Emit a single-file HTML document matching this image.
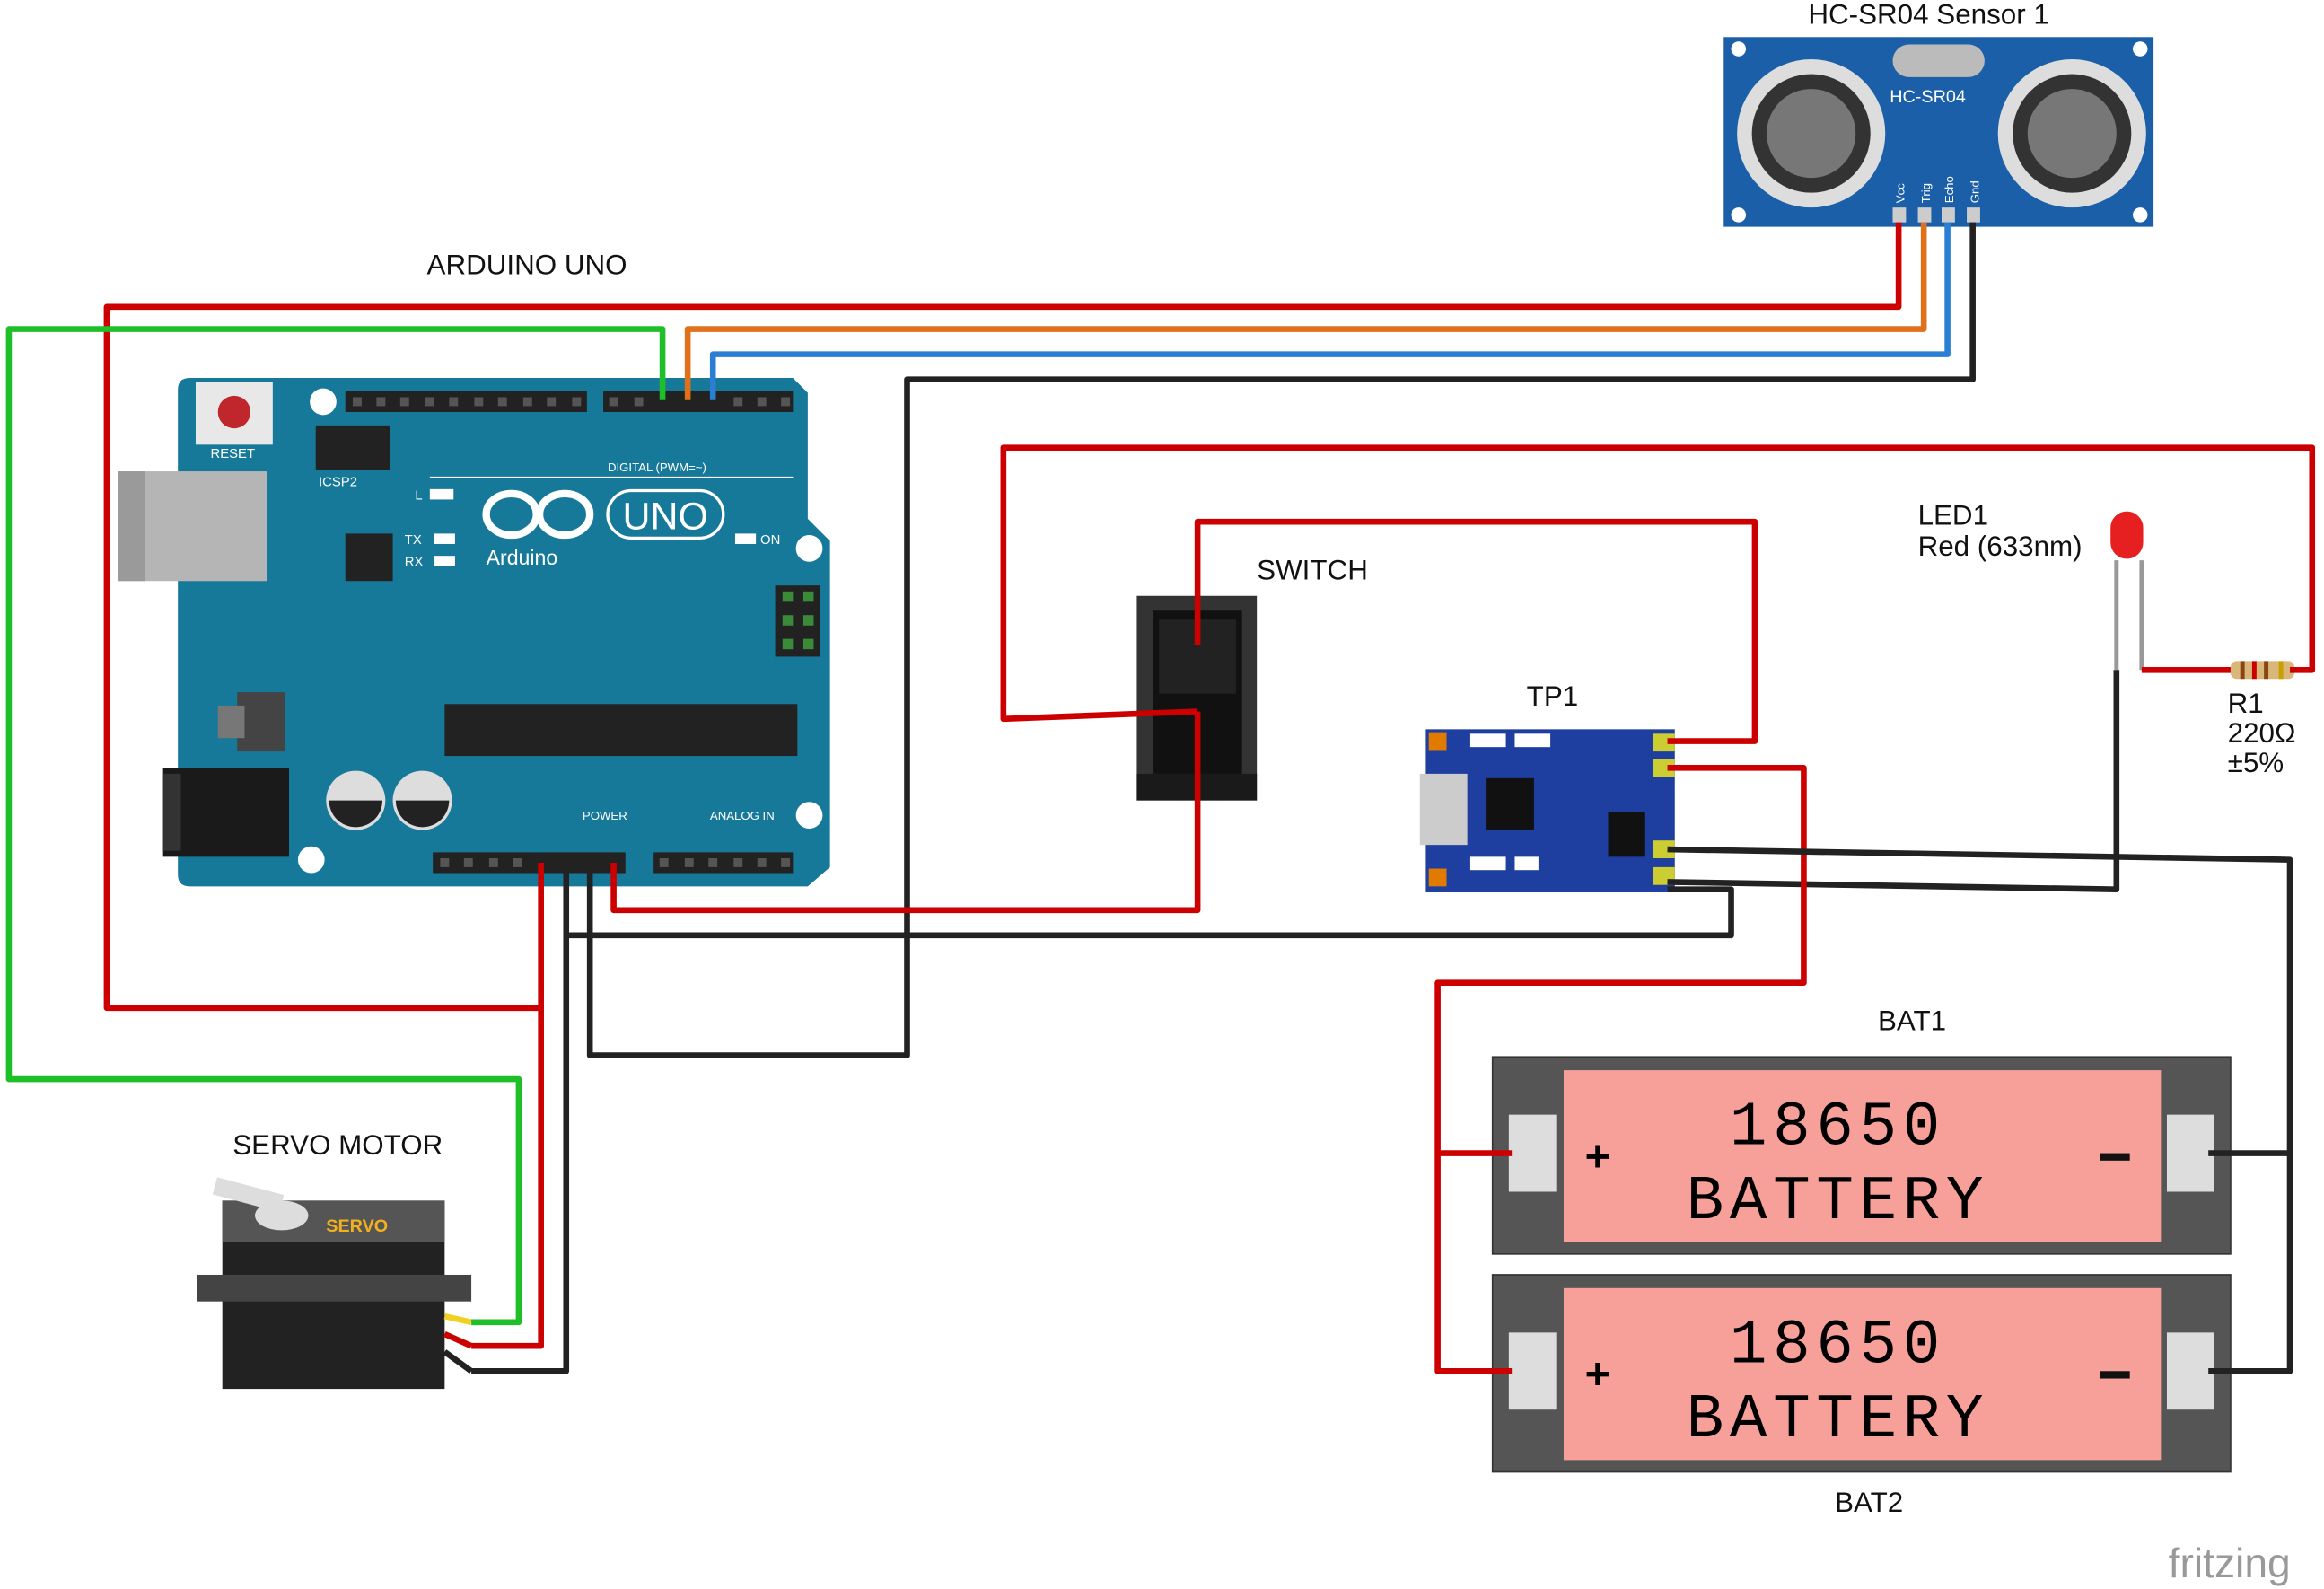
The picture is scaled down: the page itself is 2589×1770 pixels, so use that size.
<!DOCTYPE html>
<html><head><meta charset="utf-8"><style>html,body{margin:0;padding:0;background:#fff}svg{display:block}</style></head>
<body>
<svg width="2589" height="1770" viewBox="0 0 1568 1072" xmlns="http://www.w3.org/2000/svg" font-family="Liberation Sans, sans-serif">
<rect width="1568" height="1072" fill="#fff"/>
<!-- Arduino -->
<path d="M128,255 H535 L545,265 V350 L560,365 V585 L545,598 H128 Q120,598 120,590 V263 Q120,255 128,255Z" fill="#17799a"/>
<rect x="80" y="318" width="100" height="74" fill="#b5b5b5"/><rect x="80" y="318" width="18" height="74" fill="#9a9a9a"/>
<rect x="110" y="518" width="85" height="60" fill="#1a1a1a"/><rect x="110" y="522" width="12" height="52" fill="#333"/>
<rect x="132" y="258" width="52" height="42" fill="#e8e8e8"/><circle cx="158" cy="278" r="11" fill="#c0272d"/>
<text x="142" y="309" font-size="9" fill="#fff">RESET</text>
<circle cx="218" cy="271" r="9" fill="#fff"/><circle cx="546" cy="370" r="9" fill="#fff"/><circle cx="546" cy="550" r="9" fill="#fff"/><circle cx="210" cy="580" r="9" fill="#fff"/>
<rect x="233" y="264" width="163" height="14" fill="#222"/><rect x="407" y="264" width="128" height="14" fill="#222"/>
<rect x="292" y="575" width="130" height="14" fill="#222"/><rect x="441" y="575" width="94" height="14" fill="#222"/>
<g fill="#555">
<rect x="238" y="268" width="6" height="6"/><rect x="254" y="268" width="6" height="6"/><rect x="270" y="268" width="6" height="6"/><rect x="287" y="268" width="6" height="6"/><rect x="303" y="268" width="6" height="6"/><rect x="320" y="268" width="6" height="6"/><rect x="336" y="268" width="6" height="6"/><rect x="353" y="268" width="6" height="6"/><rect x="369" y="268" width="6" height="6"/><rect x="386" y="268" width="6" height="6"/>
<rect x="411" y="268" width="6" height="6"/><rect x="428" y="268" width="6" height="6"/><rect x="495" y="268" width="6" height="6"/><rect x="511" y="268" width="6" height="6"/><rect x="527" y="268" width="6" height="6"/>
<rect x="297" y="579" width="6" height="6"/><rect x="313" y="579" width="6" height="6"/><rect x="330" y="579" width="6" height="6"/><rect x="346" y="579" width="6" height="6"/>
<rect x="445" y="579" width="6" height="6"/><rect x="462" y="579" width="6" height="6"/><rect x="478" y="579" width="6" height="6"/><rect x="495" y="579" width="6" height="6"/><rect x="511" y="579" width="6" height="6"/><rect x="527" y="579" width="6" height="6"/>
</g>
<rect x="213" y="287" width="50" height="30" fill="#222"/>
<rect x="523" y="395" width="30" height="48" fill="#222"/>
<g fill="#3a8a3a"><rect x="528" y="399" width="7" height="7"/><rect x="542" y="399" width="7" height="7"/><rect x="528" y="415" width="7" height="7"/><rect x="542" y="415" width="7" height="7"/><rect x="528" y="431" width="7" height="7"/><rect x="542" y="431" width="7" height="7"/></g>
<rect x="233" y="360" width="32" height="32" fill="#222"/><rect x="300" y="475" width="238" height="35" fill="#222"/>
<rect x="160" y="467" width="32" height="40" fill="#444"/><rect x="147" y="476" width="18" height="22" fill="#777"/>
<circle cx="240" cy="540" r="20" fill="#ddd"/><path d="M222,540 a18,18 0 0,0 36,0Z" fill="#222"/>
<circle cx="285" cy="540" r="20" fill="#ddd"/><path d="M267,540 a18,18 0 0,0 36,0Z" fill="#222"/>
<rect x="290" y="330" width="16" height="7" fill="#fff"/><rect x="293" y="360" width="14" height="7" fill="#fff"/><rect x="293" y="375" width="14" height="7" fill="#fff"/><rect x="496" y="360" width="14" height="7" fill="#fff"/>
<text x="280" y="337" font-size="9" fill="#fff">L</text><text x="273" y="367" font-size="9" fill="#fff">TX</text><text x="273" y="382" font-size="9" fill="#fff">RX</text><text x="513" y="367" font-size="9" fill="#fff">ON</text>
<text x="215" y="328" font-size="9" fill="#fff">ICSP2</text>
<text x="410" y="318" font-size="8" fill="#fff">DIGITAL (PWM=~)</text><line x1="290" y1="322" x2="535" y2="322" stroke="#fff"/>
<text x="393" y="553" font-size="8" fill="#fff">POWER</text><text x="479" y="553" font-size="8" fill="#fff">ANALOG IN</text>
<ellipse cx="345" cy="347" rx="17" ry="14" fill="none" stroke="#fff" stroke-width="5"/><ellipse cx="381" cy="347" rx="17" ry="14" fill="none" stroke="#fff" stroke-width="5"/>
<rect x="410" y="331" width="78" height="32" rx="16" fill="none" stroke="#fff" stroke-width="2"/><text x="420" y="357" font-size="26" fill="#fff">UNO</text>
<text x="328" y="381" font-size="14" fill="#fff">Arduino</text>
<!-- HC-SR04 -->
<rect x="1163" y="25" width="290" height="128" fill="#1a5fa8"/>
<circle cx="1222" cy="90" r="50" fill="#ddd"/><circle cx="1222" cy="90" r="40" fill="#333"/><circle cx="1222" cy="90" r="30" fill="#777"/>
<circle cx="1398" cy="90" r="50" fill="#ddd"/><circle cx="1398" cy="90" r="40" fill="#333"/><circle cx="1398" cy="90" r="30" fill="#777"/>
<rect x="1277" y="30" width="62" height="22" rx="11" fill="#bbb"/><text x="1275" y="69" font-size="12" fill="#fff">HC-SR04</text>
<g font-size="8" fill="#fff"><text transform="translate(1285,137) rotate(-90)">Vcc</text><text transform="translate(1302,137) rotate(-90)">Trig</text><text transform="translate(1318,137) rotate(-90)">Echo</text><text transform="translate(1335,137) rotate(-90)">Gnd</text></g>
<rect x="1277" y="140" width="9" height="10" fill="#ccc"/><rect x="1294" y="140" width="9" height="10" fill="#ccc"/><rect x="1310" y="140" width="9" height="10" fill="#ccc"/><rect x="1327" y="140" width="9" height="10" fill="#ccc"/>
<circle cx="1173" cy="33" r="5" fill="#fff"/><circle cx="1444" cy="33" r="5" fill="#fff"/><circle cx="1173" cy="145" r="5" fill="#fff"/><circle cx="1444" cy="145" r="5" fill="#fff"/>
<!-- Switch -->
<rect x="767" y="402" width="81" height="138" fill="#333"/><rect x="778" y="412" width="60" height="110" fill="#111"/>
<rect x="782" y="418" width="52" height="50" fill="#222"/>
<rect x="767" y="522" width="81" height="18" fill="#1a1a1a"/>
<!-- TP1 -->
<rect x="962" y="492" width="168" height="110" fill="#1e3fa0"/><rect x="958" y="522" width="32" height="48" fill="#ccc"/><rect x="1003" y="525" width="32" height="35" fill="#111"/><rect x="1085" y="548" width="25" height="30" fill="#111"/>
<g fill="#fff"><rect x="992" y="495" width="24" height="9"/><rect x="1022" y="495" width="24" height="9"/><rect x="992" y="578" width="24" height="9"/><rect x="1022" y="578" width="16" height="9"/></g>
<rect x="1115" y="495" width="15" height="12" fill="#cc3"/><rect x="1115" y="512" width="15" height="12" fill="#cc3"/><rect x="1115" y="567" width="15" height="12" fill="#cc3"/><rect x="1115" y="585" width="15" height="12" fill="#cc3"/>
<rect x="964" y="494" width="12" height="12" fill="#e07b00"/><rect x="964" y="586" width="12" height="12" fill="#e07b00"/>
<!-- Batteries -->
<g><rect x="1007" y="713" width="498" height="133" fill="#555" stroke="#333"/><rect x="1055" y="722" width="403" height="116" fill="#f7a09a"/>
<rect x="1018" y="752" width="32" height="52" fill="#ddd"/><rect x="1462" y="752" width="32" height="52" fill="#ddd"/>
<text x="1240" y="772" font-size="42" text-anchor="middle" font-family="Liberation Mono, monospace" letter-spacing="4">18650</text><text x="1240" y="822" font-size="42" text-anchor="middle" font-family="Liberation Mono, monospace" letter-spacing="4">BATTERY</text>
<text x="1078" y="790" font-size="30" text-anchor="middle" font-weight="bold">+</text><rect x="1417" y="778" width="20" height="5" fill="#111"/></g>
<g transform="translate(0,147)"><rect x="1007" y="713" width="498" height="133" fill="#555" stroke="#333"/><rect x="1055" y="722" width="403" height="116" fill="#f7a09a"/>
<rect x="1018" y="752" width="32" height="52" fill="#ddd"/><rect x="1462" y="752" width="32" height="52" fill="#ddd"/>
<text x="1240" y="772" font-size="42" text-anchor="middle" font-family="Liberation Mono, monospace" letter-spacing="4">18650</text><text x="1240" y="822" font-size="42" text-anchor="middle" font-family="Liberation Mono, monospace" letter-spacing="4">BATTERY</text>
<text x="1078" y="790" font-size="30" text-anchor="middle" font-weight="bold">+</text><rect x="1417" y="778" width="20" height="5" fill="#111"/></g>
<!-- Servo -->
<rect x="150" y="810" width="150" height="127" fill="#222"/><rect x="133" y="860" width="185" height="18" fill="#444"/><rect x="150" y="810" width="150" height="28" fill="#555"/>
<ellipse cx="190" cy="820" rx="18" ry="10" fill="#ddd"/><path d="M145,800 L190,812" stroke="#ddd" stroke-width="12"/>
<text x="220" y="831" font-size="12" fill="#f2b01e" font-weight="bold">SERVO</text>
<path d="M300,888 L318,892 M300,900 L318,908 M300,912 L318,925" stroke-width="4" fill="none"/>
<path d="M300,888 L318,892" stroke="#f0d020" stroke-width="4"/><path d="M300,900 L318,908" stroke="#c00" stroke-width="4"/><path d="M300,912 L318,925" stroke="#222" stroke-width="4"/>
<!-- LED & resistor -->
<path d="M1428,452 V378 M1445,452 V378" stroke="#999" stroke-width="3" fill="none"/>
<rect x="1424" y="345" width="22" height="32" rx="11" fill="#e62020"/>
<rect x="1505" y="446" width="43" height="12" rx="4" fill="#d9b77b"/>
<g stroke-width="3"><line x1="1513" y1="446" x2="1513" y2="458" stroke="#8b4513"/><line x1="1521" y1="446" x2="1521" y2="458" stroke="#c00"/><line x1="1529" y1="446" x2="1529" y2="458" stroke="#8b4513"/><line x1="1539" y1="446" x2="1539" y2="458" stroke="#c9a000"/></g>
<!-- Wires -->
<g fill="none" stroke-width="4" stroke-linejoin="round">
<path d="M1281,150 V207 H72 V680 H365 V908 H318 M365,582 V680" stroke="#c00"/>
<path d="M447,270 V222 H6 V728 H350 V892 H318" stroke="#1fbf2a"/>
<path d="M464,270 V222 H1298 V150" stroke="#e0701a"/>
<path d="M481,270 V239 H1314 V150" stroke="#2a7fd4"/>
<path d="M1331,150 V256 H612 V712 H398 V582" stroke="#222"/>
<path d="M382,582 V925 H318" stroke="#222"/>
<path d="M382,631 H1168 V600 H1125" stroke="#222"/>
<path d="M414,582 V614 H808 V480" stroke="#c00"/>
<path d="M808,435 V352 H1184 V500 H1125" stroke="#c00"/>
<path d="M808,480 L677,485 V302 H1560 V452 H1545" stroke="#c00"/>
<path d="M1445,452 H1505" stroke="#c00"/>
<path d="M1428,452 V600 L1125,595" stroke="#222"/>
<path d="M1125,518 H1217 V663 H970 V925 H1020 M970,778 H1020" stroke="#c00"/>
<path d="M1125,573 L1545,580 V925 H1490 M1545,778 H1490" stroke="#222"/>
</g>
<!-- Labels -->
<g font-size="19" fill="#111">
<text x="288" y="185">ARDUINO UNO</text><text x="1220" y="16">HC-SR04 Sensor 1</text>
<text x="848" y="391">SWITCH</text><text x="1030" y="476">TP1</text>
<text x="1294" y="354">LED1</text><text x="1294" y="375">Red (633nm)</text>
<text x="1503" y="481">R1</text><text x="1503" y="501">220Ω</text><text x="1503" y="521">±5%</text>
<text x="1267" y="695">BAT1</text><text x="1238" y="1020">BAT2</text><text x="157" y="779">SERVO MOTOR</text>
</g>
<text x="1463" y="1064" font-size="28" fill="#999">fritzing</text>
</svg>
</body></html>
